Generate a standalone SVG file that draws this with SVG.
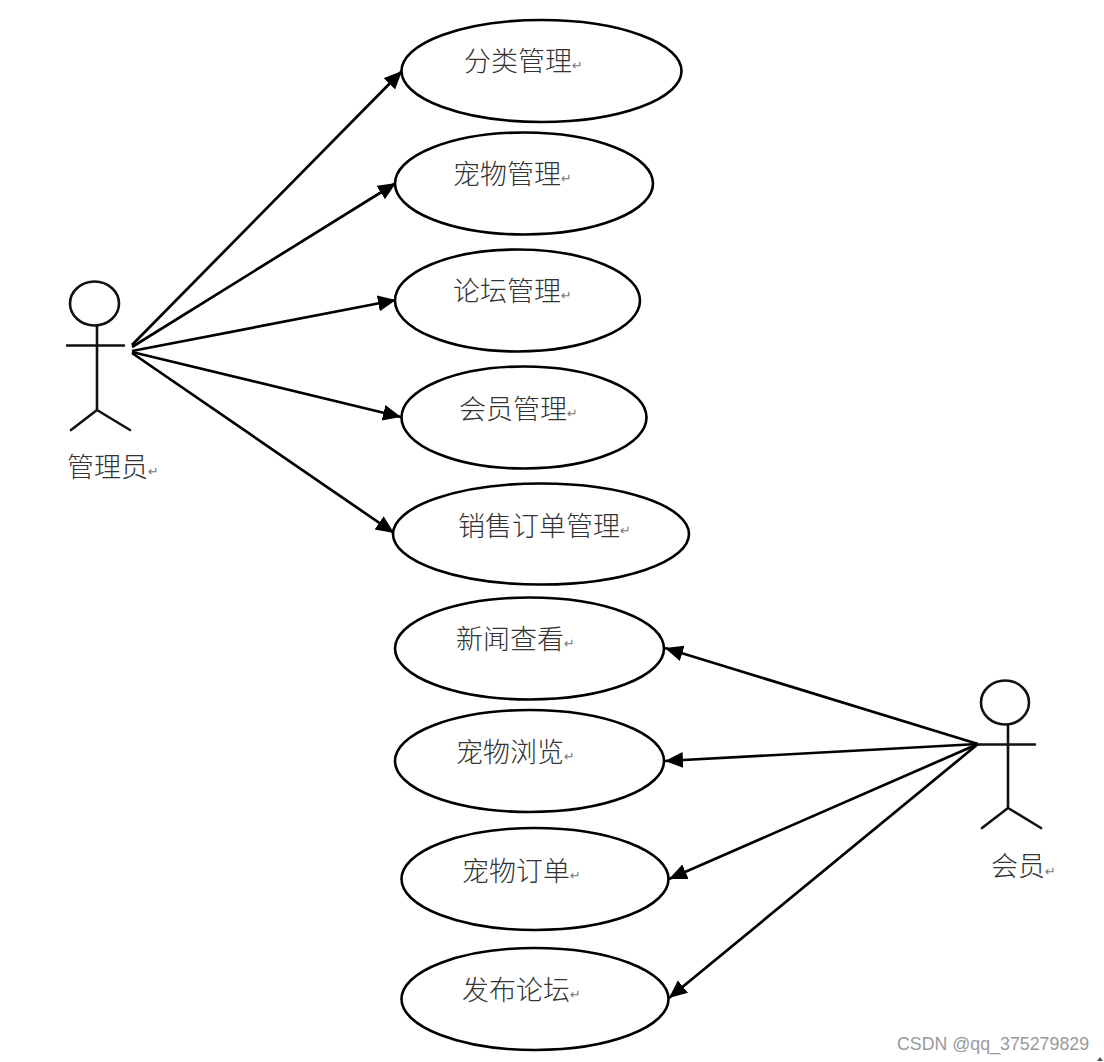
<svg xmlns="http://www.w3.org/2000/svg" width="1104" height="1062" viewBox="0 0 1104 1062">
<style>
.u{fill:#fff;stroke:#000;stroke-width:2.6}
.a{fill:none;stroke:#111;stroke-width:2.6;stroke-linecap:round}
.c{stroke:#000;stroke-width:2.7;fill:none;marker-end:url(#ah)}
.t{font-family:"Noto Sans CJK SC","Noto Sans CJK TC",sans-serif;font-size:27px;font-weight:300;fill:#333}
.r{font-family:"DejaVu Sans",sans-serif;font-size:13px;fill:#777}
.w{font-family:"Liberation Sans",Arial,sans-serif;font-size:17.800px;fill:#999}
</style>
<defs><marker id="ah" markerUnits="userSpaceOnUse" markerWidth="20" markerHeight="18" refX="18" refY="8" orient="auto"><path d="M0 0L18 8L0 16Z" fill="#000"/></marker></defs>
<rect width="1104" height="1062" fill="#fff"/>
<g id="connectors">
<line class="c" x1="132" y1="345" x2="402" y2="71"/>
<line class="c" x1="132" y1="347" x2="396" y2="183"/>
<line class="c" x1="132" y1="351" x2="396" y2="300"/>
<line class="c" x1="132" y1="352" x2="401" y2="417"/>
<line class="c" x1="132" y1="353" x2="394" y2="533"/>
<line class="c" x1="978" y1="744" x2="665" y2="648"/>
<line class="c" x1="978" y1="744" x2="665" y2="761"/>
<line class="c" x1="978" y1="744" x2="669" y2="879"/>
<line class="c" x1="978" y1="744" x2="669" y2="998"/>
</g>
<g id="actor-admin">
<ellipse class="a" cx="94.500" cy="303.500" rx="24.500" ry="22"/>
<path class="a" d="M67 345.500H124M97 326V410M97 410L71 430M97 410L130 430"/>
<text class="t" x="67" y="477">管理员</text><text class="r" x="148" y="476">↵</text>
</g>
<g id="actor-member">
<ellipse class="a" cx="1005" cy="702.500" rx="24" ry="22"/>
<path class="a" d="M978 744.500H1035M1008 725V808M1008 808L982 828M1008 808L1041 828"/>
<text class="t" x="991" y="876">会员</text><text class="r" x="1045" y="876">↵</text>
</g>
<g id="uc1"><ellipse class="u" cx="541.500" cy="71" rx="140" ry="51"/><text class="t" x="464" y="71">分类管理</text><text class="r" x="572" y="70">↵</text></g>
<g id="uc2"><ellipse class="u" cx="524" cy="183.500" rx="129" ry="51"/><text class="t" x="453" y="184">宠物管理</text><text class="r" x="561" y="183">↵</text></g>
<g id="uc3"><ellipse class="u" cx="517.500" cy="300.500" rx="122.500" ry="51"/><text class="t" x="453" y="301">论坛管理</text><text class="r" x="561" y="300">↵</text></g>
<g id="uc4"><ellipse class="u" cx="524" cy="417.500" rx="122.500" ry="51"/><text class="t" x="459" y="419">会员管理</text><text class="r" x="567" y="418">↵</text></g>
<g id="uc5"><ellipse class="u" cx="541" cy="534" rx="148" ry="50.500"/><text class="t" x="458" y="536">销售订单管理</text><text class="r" x="620" y="535">↵</text></g>
<g id="uc6"><ellipse class="u" cx="529.500" cy="648.500" rx="134.500" ry="51"/><text class="t" x="456" y="649">新闻查看</text><text class="r" x="564" y="648">↵</text></g>
<g id="uc7"><ellipse class="u" cx="529.500" cy="761" rx="134.500" ry="51"/><text class="t" x="456" y="762">宠物浏览</text><text class="r" x="564" y="761">↵</text></g>
<g id="uc8"><ellipse class="u" cx="535" cy="879" rx="133.500" ry="51"/><text class="t" x="462" y="881">宠物订单</text><text class="r" x="570" y="880">↵</text></g>
<g id="uc9"><ellipse class="u" cx="535" cy="999" rx="133.500" ry="51"/><text class="t" x="462" y="1000">发布论坛</text><text class="r" x="570" y="999">↵</text></g>
<text class="w" x="897" y="1050">CSDN @qq_375279829</text>
<path d="M1100 1057l3 4h-6Z" fill="#555"/>
</svg>
